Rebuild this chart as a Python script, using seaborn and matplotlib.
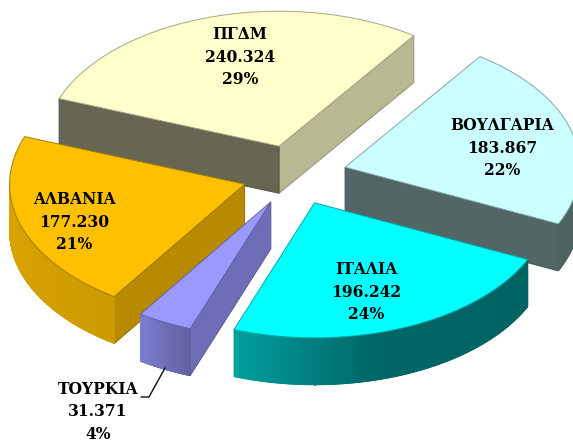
import numpy as np
import matplotlib
matplotlib.use("Agg")
import matplotlib.pyplot as plt
import seaborn as sns

# ---- data (clockwise from the upper right, as in the reference) ----
countries = ["ΒΟΥΛΓΑΡΙΑ", "ΙΤΑΛΙΑ", "ΤΟΥΡΚΙΑ", "ΑΛΒΑΝΙΑ", "ΠΓΔΜ"]
values = [183.867, 196.242, 31.371, 177.230, 240.324]
value_labels = ["183.867", "196.242", "31.371", "177.230", "240.324"]
percent_labels = ["22%", "24%", "4%", "21%", "29%"]
top_colors = ["#CCFFFF", "#00FFFF", "#9999FF", "#FFC000", "#FFFFCC"]
label_px = [(502, 148), (366, 292), (98, 412), (74, 222), (240, 57)]
draw_order = [4, 0, 3, 2, 1]

W, H = 573, 443
CX, CY, RX, RY = 294.5, 175.0, 235.0, 135.0
DEPTH = 47 / RY
EXPLODE = 0.223
START = 55.0

sns.set_theme(style="white")
palette = sns.color_palette(top_colors)

fig = plt.figure(figsize=(W / 100, H / 100), dpi=100, facecolor="white")
ax = fig.add_axes([0, 0, 1, 1])
ax.set_xlim(-CX / RX, (W - CX) / RX)
ax.set_ylim(-(H - CY) / RY, CY / RY)
ax.axis("off")


def shade(color, f):
    return tuple(np.clip(np.array(color) * f, 0, 1))


def arc_factor(t):
    t = ((t + 180) % 360) - 180
    t = -180 if t > 170 else t
    return np.interp(t, [-180, -122, -109, -75, 0], [0.86, 0.80, 0.62, 0.40, 0.38])


fractions = np.array(values) / np.sum(values)
spans = fractions * 360
ends = START - np.concatenate([[0], np.cumsum(spans)[:-1]])
starts = ends - spans

for i in draw_order:
    t0, t1 = starts[i], ends[i]
    tm = np.radians((t0 + t1) / 2)
    apex = np.array([EXPLODE * np.cos(tm), EXPLODE * np.sin(tm)])
    ts = np.linspace(t0, t1, 500)
    rim = apex + np.c_[np.cos(np.radians(ts)), np.sin(np.radians(ts))]
    col = palette[i]
    edge = shade(col, 0.65)
    down = np.array([0, -DEPTH])
    z = draw_order.index(i) * 10

    mid_rim = apex + 0.6 * np.array([np.cos(tm), np.sin(tm)])
    for p in (rim[0], rim[-1]):
        d = p - apex
        y_on_edge = apex[1] + d[1] * (mid_rim[0] - apex[0]) / d[0] if d[0] else 0
        if mid_rim[1] > y_on_edge:
            steep = abs(d[1] * RY / (d[0] * RX)) > 0.5
            f = 0.72 if steep else 0.40
            quad = np.array([apex, p, p + down, apex + down])
            ax.fill(quad[:, 0], quad[:, 1], color=shade(col, f), ec=shade(col, f * 0.8),
                    lw=0.7, zorder=z)

    for a, b, ta, tb in zip(rim[:-1], rim[1:], ts[:-1], ts[1:]):
        tc = (ta + tb) / 2
        if np.sin(np.radians(tc)) < 0:
            f = arc_factor(tc)
            quad = np.array([a, b, b + down, a + down])
            ax.fill(quad[:, 0], quad[:, 1], color=shade(col, f), ec=shade(col, f), lw=0.6,
                    zorder=z + 1)

    poly = np.vstack([apex, rim])
    ax.fill(poly[:, 0], poly[:, 1], fc=col, ec=edge, lw=0.7, joinstyle="miter", zorder=z + 2)

for i, name in enumerate(countries):
    x, y = label_px[i]
    ax.text((x - CX) / RX, (CY - y) / RY,
            f"{name}\n{value_labels[i]}\n{percent_labels[i]}",
            family="DejaVu Serif", weight="bold", size=11.2, color="black",
            ha="center", va="center", linespacing=1.45, zorder=100)

leader = np.array([(141, 397), (149, 397), (165, 368)], dtype=float)
ax.plot((leader[:, 0] - CX) / RX, (CY - leader[:, 1]) / RY, color="#111111", lw=1.0, zorder=100)

fig.savefig("out.png", dpi=100, facecolor="white")
